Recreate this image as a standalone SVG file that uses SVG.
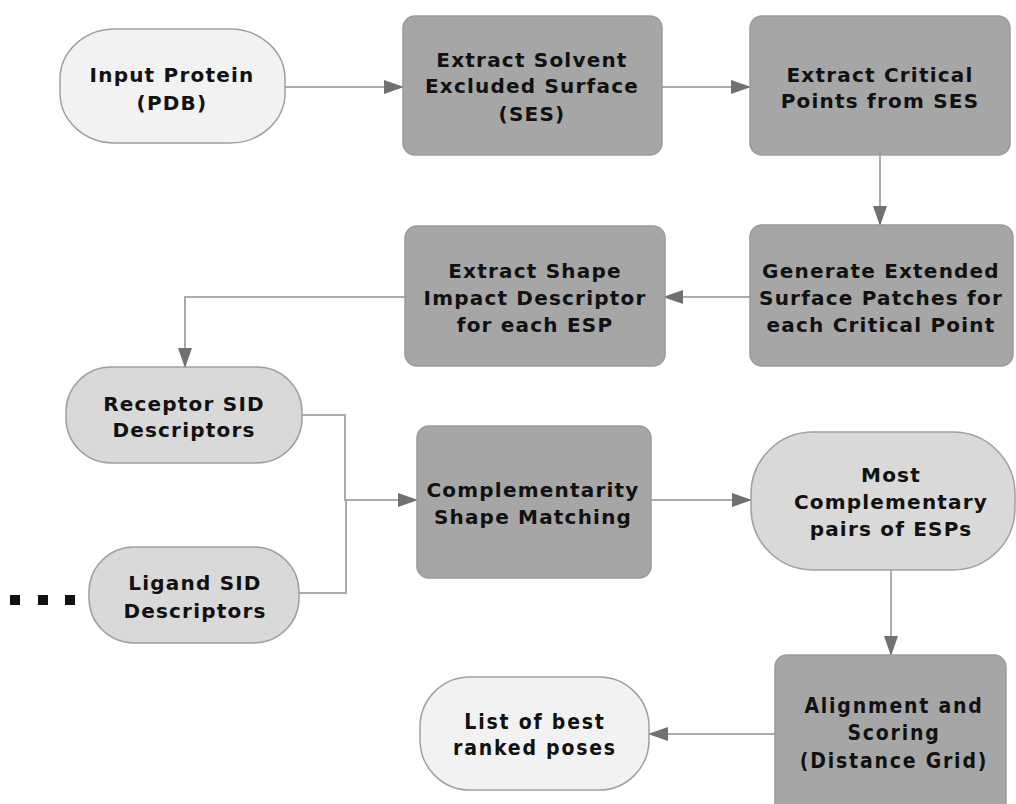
<svg xmlns="http://www.w3.org/2000/svg" width="1016" height="804" viewBox="0 0 1016 804">
<defs>
<marker id="ah" markerWidth="20" markerHeight="14" refX="19" refY="7" orient="auto" markerUnits="userSpaceOnUse">
<path d="M0,0 L20,7 L0,14 Z" fill="#707070"/>
</marker>
<style>
.box{fill:#a6a6a6;stroke:#9a9a9a;stroke-width:1.5}
.pill{fill:#d9d9d9;stroke:#a0a0a0;stroke-width:1.5}
.lt{fill:#f2f2f2;stroke:#a0a0a0;stroke-width:1.5}
.t{font-family:"DejaVu Sans","Verdana",sans-serif;font-weight:bold;font-size:20px;letter-spacing:1.2px;fill:#111;text-anchor:middle}
.c{font-family:"DejaVu Sans Condensed","DejaVu Sans",sans-serif;font-weight:bold;font-size:21px;letter-spacing:1.8px;fill:#111;text-anchor:middle}
.ln{fill:none;stroke:#ababab;stroke-width:2}
</style>
</defs>
<rect width="1016" height="804" fill="#fff"/>
<g id="connectors">
<path class="ln" d="M285,87 L403,87" marker-end="url(#ah)"/>
<path class="ln" d="M662,87 L750,87" marker-end="url(#ah)"/>
<path class="ln" d="M880,155 L880,225" marker-end="url(#ah)"/>
<path class="ln" d="M750,297 L664,297" marker-end="url(#ah)"/>
<path class="ln" d="M405,297 L185,297 L185,367" marker-end="url(#ah)"/>
<path class="ln" d="M302,415 L345,415 L345,500 L417,500" marker-end="url(#ah)"/>
<path class="ln" d="M299,593 L346,593 L346,500"/>
<path class="ln" d="M651,500 L751,500" marker-end="url(#ah)"/>
<path class="ln" d="M891,570 L891,655" marker-end="url(#ah)"/>
<path class="ln" d="M775,734 L649,734" marker-end="url(#ah)"/>
</g>
<g id="input">
<rect class="lt" x="60" y="29" width="225" height="114" rx="55" ry="50"/>
<text class="t" x="172" y="82">Input Protein</text>
<text class="t" x="172" y="110">(PDB)</text>
</g>
<g id="ses">
<rect class="box" x="403" y="16" width="259" height="139" rx="12"/>
<text class="t" x="532" y="67">Extract Solvent</text>
<text class="t" x="532" y="93">Excluded Surface</text>
<text class="t" x="532" y="121">(SES)</text>
</g>
<g id="critical">
<rect class="box" x="750" y="16" width="260" height="139" rx="12"/>
<text class="t" x="880" y="82">Extract Critical</text>
<text class="t" x="880" y="108">Points from SES</text>
</g>
<g id="generate">
<rect class="box" x="750" y="225" width="263" height="141" rx="12"/>
<text class="t" x="881" y="278">Generate Extended</text>
<text class="t" x="881" y="305">Surface Patches for</text>
<text class="t" x="881" y="332">each Critical Point</text>
</g>
<g id="sid">
<rect class="box" x="405" y="226" width="260" height="140" rx="12"/>
<text class="t" x="535" y="278">Extract Shape</text>
<text class="t" x="535" y="305">Impact Descriptor</text>
<text class="t" x="535" y="332">for each ESP</text>
</g>
<g id="receptor">
<rect class="pill" x="66" y="367" width="236" height="96" rx="45" ry="45"/>
<text class="t" x="184" y="411">Receptor SID</text>
<text class="t" x="184" y="437">Descriptors</text>
</g>
<g id="ligand">
<rect class="pill" x="89" y="547" width="210" height="96" rx="45" ry="45"/>
<text class="t" x="195" y="590">Ligand SID</text>
<text class="t" x="195" y="618">Descriptors</text>
</g>
<g id="dots">
<rect x="10" y="595" width="10" height="10" fill="#111"/>
<rect x="38" y="595" width="10" height="10" fill="#111"/>
<rect x="65" y="595" width="10" height="10" fill="#111"/>
</g>
<g id="matching">
<rect class="box" x="417" y="426" width="234" height="152" rx="12"/>
<text class="t" x="533" y="497">Complementarity</text>
<text class="t" x="533" y="524">Shape Matching</text>
</g>
<g id="pairs">
<rect class="pill" x="751" y="432" width="264" height="138" rx="62" ry="62"/>
<text class="t" x="891" y="482">Most</text>
<text class="t" x="891" y="509">Complementary</text>
<text class="t" x="891" y="536">pairs of ESPs</text>
</g>
<g id="alignment">
<rect class="box" x="775" y="655" width="231" height="160" rx="12"/>
<text class="c" x="894" y="713">Alignment and</text>
<text class="c" x="894" y="740">Scoring</text>
<text class="c" x="894" y="768">(Distance Grid)</text>
</g>
<g id="list">
<rect class="lt" x="420" y="677" width="229" height="113" rx="50" ry="50"/>
<text class="c" x="535" y="729">List of best</text>
<text class="c" x="535" y="755">ranked poses</text>
</g>
</svg>
